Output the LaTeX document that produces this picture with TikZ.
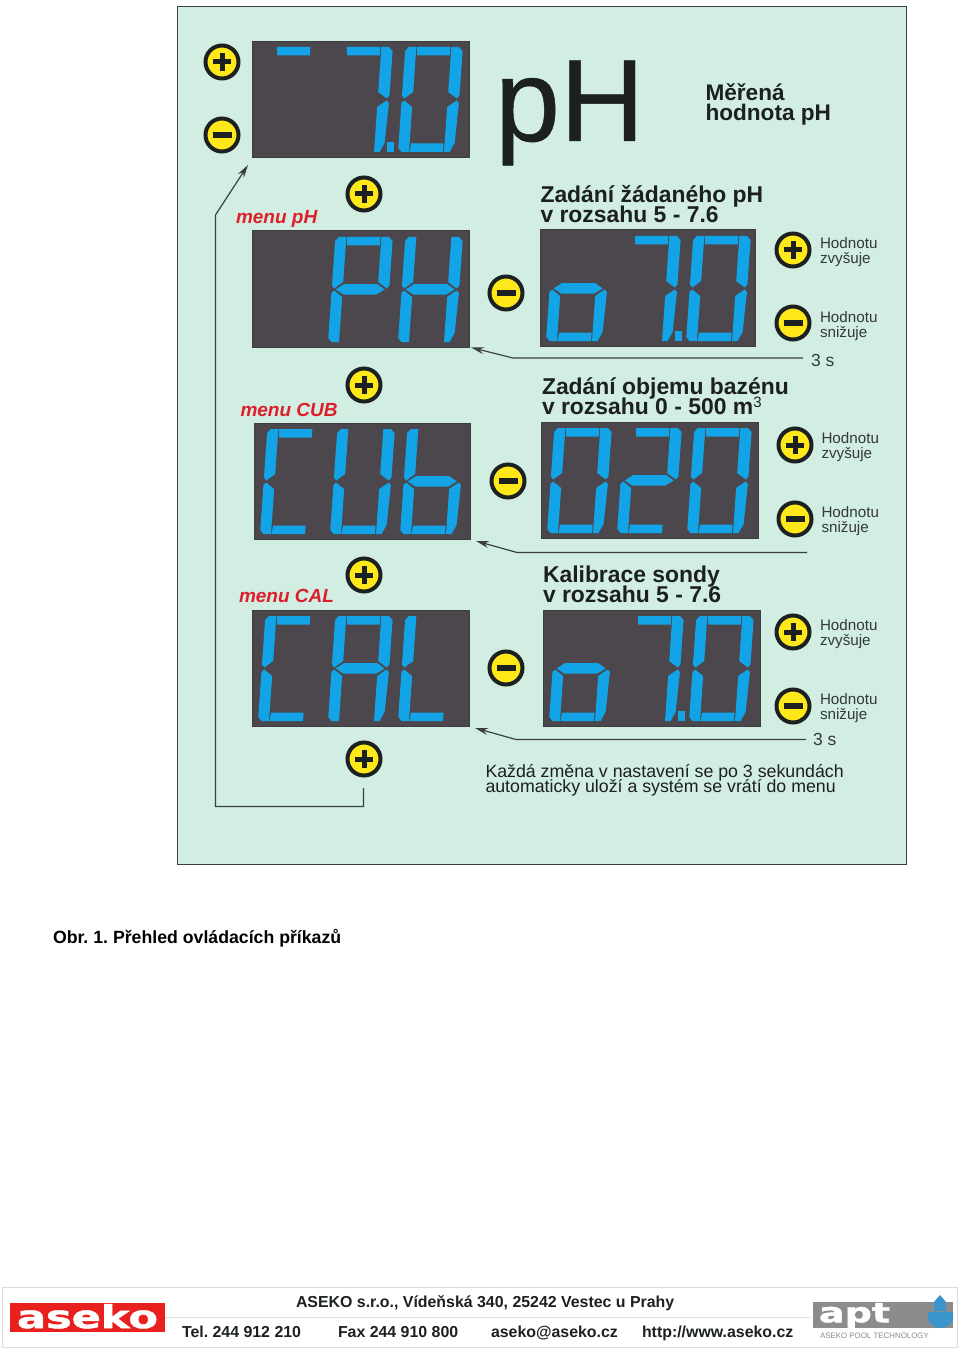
\documentclass[tikz,border=0pt]{standalone}
\usepackage{fontspec}
\setmainfont{Liberation Sans}
\newfontfamily\logofont[UprightFont=*\space Bold,FakeBold=1.5]{DejaVu Sans}
\newfontfamily\bigfont[FakeBold=0.4]{Liberation Sans}
\usetikzlibrary{arrows.meta}
\definecolor{panelbg}{HTML}{D2EDE2}
\definecolor{panelline}{HTML}{3A3F3E}
\definecolor{dispbg}{HTML}{4B474D}
\definecolor{seg}{HTML}{12A4E6}
\definecolor{btnyellow}{HTML}{FFE81A}
\definecolor{ink}{HTML}{1C2020}
\definecolor{labelink}{HTML}{343A3A}
\definecolor{menured}{HTML}{DC1F2A}
\definecolor{logored}{HTML}{E8201E}
\definecolor{aptgray}{HTML}{8C8C8C}
\definecolor{aptblue}{HTML}{3A95CC}
\definecolor{rule}{HTML}{DDDDDD}
\tikzset{
  dispbox/.style={draw=panelline,line width=1pt,fill=dispbg,inner sep=0pt,outer sep=0pt,anchor=north west},
  segfill/.style={fill=seg},
  btnnode/.style={circle,draw=ink,line width=4pt,fill=btnyellow,minimum size=33pt,inner sep=0pt,outer sep=0pt},
  signline/.style={draw=ink,line width=5pt},
  conn/.style={draw=panelline,line width=1.2pt},
  conntip/.style={conn,-{Stealth[length=13pt,width=7pt]}},
  txt/.style={anchor=base west,inner sep=0pt,outer sep=0pt},
  bold/.style={execute at begin node=\bfseries},
  menutxt/.style={text=menured,execute at begin node=\bfseries\itshape},
  foottxt/.style={text=ink,execute at begin node=\bfseries},
  flatbox/.style={inner sep=0pt,outer sep=0pt,anchor=north west},
}
\def\sega{\fill[segfill] (11.5,105)--(45,105)--(45,96.5)--(12.5,96.5)--cycle;}
\def\segb{\fill[segfill] (46,105)--(53.5,105)--(57.5,101)--(57.5,56.5)--(55,53.5)--(46,60)--cycle;}
\def\segc{\fill[segfill] (46,45)--(55,51.5)--(57.5,49)--(56,9)--(51.5,0)--(46,0)--cycle;}
\def\segd{\fill[segfill] (11.5,0)--(45,0)--(45,8.5)--(12.5,8.5)--cycle;}
\def\sege{\fill[segfill] (0,4)--(3.5,0)--(11,0)--(11,45)--(2.5,51.5)--(0,49)--cycle;}
\def\segf{\fill[segfill] (0,56.5)--(2.5,53.5)--(11,60)--(11,105)--(3.5,105)--(0,101)--cycle;}
\def\segg{\fill[segfill] (4,52.5)--(12,58)--(45,58)--(53,52.5)--(45,47.5)--(12,47.5)--cycle;}
\newcommand{\segdigit}[4]{%
  \begin{scope}[shift={({#1+6+70*#3},{#2+111})},x=1pt,y=1pt,xslant=0.07]
    \foreach \s in {#4}{\csname seg\s\endcsname}
  \end{scope}}
\newcommand{\decpoint}[2]{%
  \fill[segfill] ({#1+134.5},{#2+101}) rectangle ({#1+141.5},{#2+111});}
\newcommand{\dispnode}[5]{%
  \node (#1) [dispbox,minimum width=#4 pt,minimum height=#5 pt] at (#2,#3) {};}
\newcommand{\btnplus}[3]{%
  \node (#1) [btnnode] at (#2,#3) {};
  \draw[signline] ([xshift=-9pt]#1.center) -- ([xshift=9pt]#1.center);
  \draw[signline] ([yshift=-9pt]#1.center) -- ([yshift=9pt]#1.center);}
\newcommand{\btnminus}[3]{%
  \node (#1) [btnnode] at (#2,#3) {};
  \draw[signline,line width=6pt] ([xshift=-9.5pt]#1.center) -- ([xshift=9.5pt]#1.center);}
% name, x, baseline y, size, leading, style, text (lines separated by \cr)
\newcommand{\lbl}[7]{%
  \node (#1) [txt,font=\fontsize{#4}{#5}\selectfont,#6] at (#2,#3)
    {\frenchspacing\vtop{\lineskiplimit=-100pt\halign{##\hfil\cr #7\cr}}};}
\begin{document}
\begin{tikzpicture}[x=1pt,y=-1pt]
\useasboundingbox (0,0) rectangle (960,1348);
\fill[white] (0,0) rectangle (960,1348);
% panel
\node (panel) [flatbox,draw=panelline,line width=1.3pt,fill=panelbg,minimum width=729pt,minimum height=858pt] at (177.5,6.5) {};
% displays
\dispnode{dA}{252}{41.5}{217}{116.5}
\dispnode{dB}{252}{231}{217}{116}
\dispnode{dC}{254}{423}{216}{116}
\dispnode{dD}{252}{610}{217}{116}
\dispnode{rA}{540}{230}{215}{116}
\dispnode{rB}{541}{422}{217}{116}
\dispnode{rC}{543}{610}{217}{116}
\segdigit{252}{41}{0}{a}\segdigit{252}{41}{1}{a,b,c}\segdigit{252}{41}{2}{a,b,c,d,e,f}\decpoint{252}{41}
\segdigit{252}{231}{1}{a,b,e,f,g}\segdigit{252}{231}{2}{b,c,e,f,g}
\segdigit{254}{423}{0}{a,d,e,f}\segdigit{254}{423}{1}{b,c,d,e,f}\segdigit{254}{423}{2}{c,d,e,f,g}
\segdigit{252}{610}{0}{a,d,e,f}\segdigit{252}{610}{1}{a,b,c,e,f,g}\segdigit{252}{610}{2}{d,e,f}
\segdigit{540}{230}{0}{c,d,e,g}\segdigit{540}{230}{1}{a,b,c}\segdigit{540}{230}{2}{a,b,c,d,e,f}\decpoint{540}{230}
\segdigit{541}{422}{0}{a,b,c,d,e,f}\segdigit{541}{422}{1}{a,b,d,e,g}\segdigit{541}{422}{2}{a,b,c,d,e,f}
\segdigit{543}{610}{0}{c,d,e,g}\segdigit{543}{610}{1}{a,b,c}\segdigit{543}{610}{2}{a,b,c,d,e,f}\decpoint{543}{610}
% buttons
\btnplus{bA}{222}{62}
\btnminus{bB}{222}{135}
\btnplus{bC}{364}{194}
\btnminus{bD}{506}{293}
\btnplus{bE}{793}{250}
\btnminus{bF}{793}{323}
\btnplus{bG}{364}{385}
\btnminus{bH}{508}{481}
\btnplus{bI}{795}{445}
\btnminus{bJ}{795}{519}
\btnplus{bK}{364}{575}
\btnminus{bL}{506}{668}
\btnplus{bM}{793}{632}
\btnminus{bN}{793}{706}
\btnplus{bO}{364}{759}
% connectors
\coordinate (loopS) at (363.5,788);
\coordinate (loopA) at (363.5,806.5);
\coordinate (loopB) at (215.5,806.5);
\coordinate (loopC) at (215.5,215);
\coordinate (loopT) at (248,165);
\draw[conntip] (loopS) -- (loopA) -- (loopB) -- (loopC) -- (loopT);
\coordinate (aS) at (803,358); \coordinate (aB) at (513,358); \coordinate (aT) at (471,347.5);
\draw[conntip] (aS) -- (aB) -- (aT);
\coordinate (cS) at (807,552.5); \coordinate (cB) at (517,552.5); \coordinate (cT) at (476,541);
\draw[conntip] (cS) -- (cB) -- (cT);
\coordinate (eS) at (806,739.5); \coordinate (eB) at (516,739.5); \coordinate (eT) at (475,728);
\draw[conntip] (eS) -- (eB) -- (eT);
% texts
\lbl{tPH}{495}{141}{117}{117}{text=ink,execute at begin node=\bigfont}{pH}
\lbl{tMer}{705.5}{100.5}{22.6}{20}{text=ink,bold}{Měřená\cr hodnota pH}
\lbl{tZad}{540.5}{203}{22.9}{19.5}{text=ink,bold}{Zadání žádaného pH\cr v rozsahu 5 - 7.6}
\lbl{tObj}{542}{394}{22.9}{20}{text=ink,bold}{Zadání objemu bazénu\cr v rozsahu 0 - 500 m\raisebox{7pt}{\fontsize{15}{15}\selectfont\mdseries 3}}
\lbl{tKal}{543}{582}{22.9}{20}{text=ink,bold}{Kalibrace sondy\cr v rozsahu 5 - 7.6}
\lbl{mA}{236}{224}{19}{19}{menutxt}{menu pH}
\lbl{mB}{240.5}{416}{19}{19}{menutxt}{menu CUB}
\lbl{mC}{239}{602}{19}{19}{menutxt}{menu CAL}
\lbl{hA}{820}{248}{15.2}{15}{text=labelink}{Hodnotu\cr zvyšuje}
\lbl{hB}{820}{322}{15.2}{15}{text=labelink}{Hodnotu\cr snižuje}
\lbl{hC}{821.5}{443}{15.2}{15}{text=labelink}{Hodnotu\cr zvyšuje}
\lbl{hD}{821.5}{517.5}{15.2}{15}{text=labelink}{Hodnotu\cr snižuje}
\lbl{hE}{820}{630}{15.2}{15}{text=labelink}{Hodnotu\cr zvyšuje}
\lbl{hF}{820}{704.5}{15.2}{15}{text=labelink}{Hodnotu\cr snižuje}
\lbl{sA}{811}{366}{17.5}{17.5}{text=labelink}{3 s}
\lbl{sB}{813}{745}{17.5}{17.5}{text=labelink}{3 s}
\lbl{note}{485.5}{777}{17.75}{15.5}{text=ink}{Každá změna v nastavení se po 3 sekundách\cr automaticky uloží a systém se vrátí do menu}
\lbl{cap}{53}{943}{17.7}{18}{text=black,bold}{Obr. 1. Přehled ovládacích příkazů}
% footer
\node (foot) [flatbox,draw=rule,line width=1pt,minimum width=955pt,minimum height=60pt] at (2.5,1287.5) {};
\coordinate (ruleL) at (165,1317.5); \coordinate (ruleR) at (810,1317.5);
\draw[rule,line width=1pt] (ruleL) -- (ruleR);
\lbl{fA}{296}{1307}{15.9}{16}{foottxt}{ASEKO s.r.o., Vídeňská 340, 25242 Vestec u Prahy}
\lbl{fB}{182}{1337}{15.9}{16}{foottxt}{Tel. 244 912 210}
\lbl{fC}{338}{1337}{15.9}{16}{foottxt}{Fax 244 910 800}
\lbl{fD}{491}{1337}{15.9}{16}{foottxt}{aseko@aseko.cz}
\lbl{fE}{642}{1337}{15.9}{16}{foottxt}{http://www.aseko.cz}
% aseko logo
\node (logoA) [flatbox,fill=logored,minimum width=155pt,minimum height=29pt] at (10,1303) {};
\node (logoAt) [text=white,inner sep=0pt,outer sep=0pt,anchor=south west] at (17,1328.5)
  {\resizebox{141pt}{24pt}{\logofont aseko}};
% apt logo
\node (logoB) [flatbox,fill=aptgray,minimum width=140pt,minimum height=26pt] at (813,1302) {};
\fill[aptblue] (940,1295) .. controls (942,1298) and (945,1300) .. (946,1302) -- (946,1311) -- (934,1311) -- (934,1302) .. controls (935,1300) and (938,1298) .. (940,1295) -- cycle;
\fill[aptblue] (928,1312) -- (953,1312) -- (953,1320) .. controls (950,1326) and (945,1328) .. (940.5,1328) .. controls (936,1328) and (931,1326) .. (928,1320) -- cycle;
\node (logoBt) [text=white,inner sep=0pt,outer sep=0pt,anchor=south west] at (819,1328)
  {\resizebox*{71pt}{25pt}{\logofont apt}};
\lbl{logoBs}{820}{1338}{7.9}{8}{text=aptgray}{ASEKO POOL TECHNOLOGY}
\end{tikzpicture}
\end{document}
